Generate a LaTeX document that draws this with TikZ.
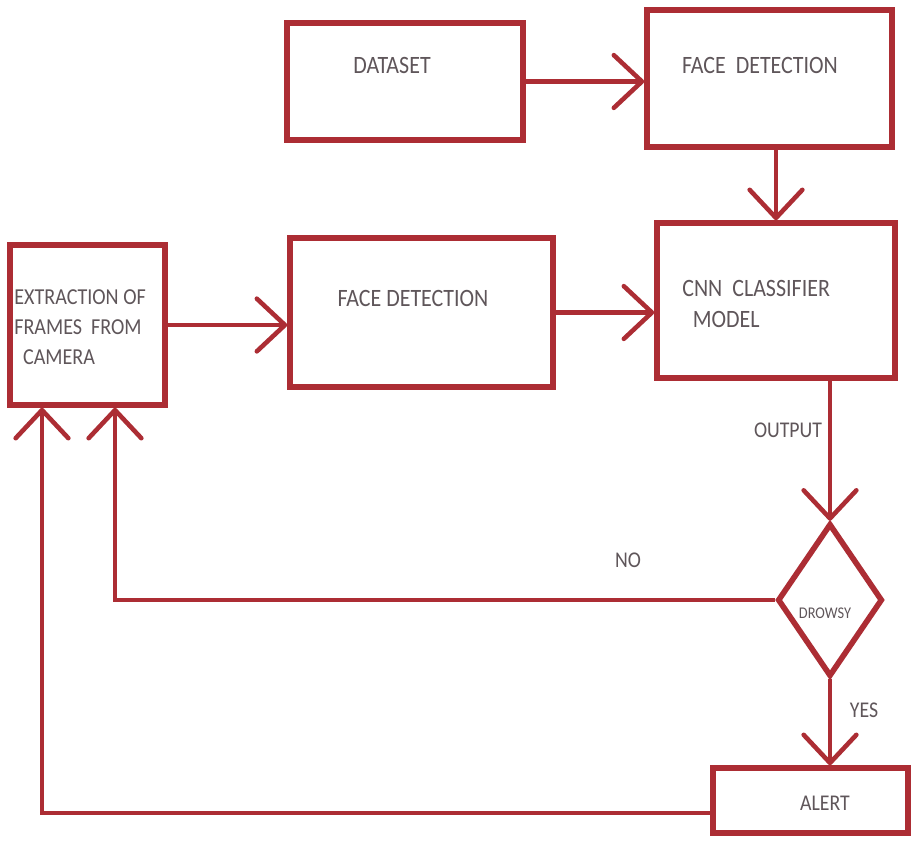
\documentclass[tikz,border=0pt]{standalone}
\usepackage{fontspec}
\setmainfont{Carlito}[FakeStretch=0.88]
\usetikzlibrary{arrows.meta,shapes.geometric}
\definecolor{boxred}{RGB}{172,45,52}
\definecolor{txtgray}{RGB}{95,86,90}

\begin{document}
\begin{tikzpicture}[x=0.02cm, y=-0.02cm,
    blk/.style={draw=boxred, line width=3.2pt, inner sep=0pt},
    txt/.style={text=txtgray, font=\fontsize{14.2}{16}\selectfont, inner sep=0pt},
    lbl/.style={text=txtgray, font=\fontsize{12.8}{14}\selectfont, inner sep=0pt},
    arr/.style={draw=boxred, line width=2.6pt, -{Straight Barb[length=16pt,width=30pt,round]}}]
  \fill[white] (0,0) rectangle (915,840);
  \useasboundingbox (0,0) rectangle (915,840);

  % boxes
  \node[blk, minimum width=4.72cm, minimum height=2.34cm] (dataset) at (405,81.5) {};
  \node[blk, minimum width=4.9cm, minimum height=2.74cm] (fdtop) at (769.5,78.5) {};
  \node[blk, minimum width=4.76cm, minimum height=3.1cm] (cnn) at (776,300.5) {};
  \node[blk, minimum width=5.26cm, minimum height=2.98cm] (fdmid) at (421.5,312.5) {};
  \node[blk, minimum width=3.1cm, minimum height=3.2cm] (extract) at (87.5,325) {};
  \node[blk, diamond, minimum width=2.1cm, minimum height=3.06cm] (drowsy) at (830,600) {};
  \node[blk, minimum width=3.9cm, minimum height=1.3cm] (alert) at (810.5,800.5) {};

  % texts
  \node[txt] (dataset-t) at (392,65) {DATASET};
  \node[txt] (fdtop-t) at (760,65) {FACE\ \ DETECTION};
  \node[txt, align=left, anchor=west] (cnn-t) at (682,304) {CNN\ \ CLASSIFIER\\[2pt]\hspace{6pt}MODEL};
  \node[txt] (fdmid-t) at (413,298) {FACE DETECTION};
  \node[txt, font=\fontsize{13}{17}\selectfont, align=left, anchor=west] (extract-t) at (14,327)
    {EXTRACTION OF\\FRAMES\ \ FROM\\\hspace{5pt}CAMERA};
  \node[txt, font=\fontsize{9.3}{10}\selectfont] (drowsy-t) at (825,613) {DROWSY};
  \node[lbl] (alert-t) at (825,803) {ALERT};

  % connectors
  \coordinate (noin) at ([xshift=0.55cm]extract.south);
  \coordinate (yesin) at ([xshift=-0.91cm]extract.south);
  \coordinate (alertout) at ([yshift=-0.25cm]alert.west);
  \draw[arr] (dataset.east) -- (dataset.east -| fdtop.west);
  \draw[arr] (cnn.north |- fdtop.south) -- (cnn.north);
  \draw[arr] (extract.east) -- (extract.east -| fdmid.west);
  \draw[arr] (fdmid.east) -- (fdmid.east -| cnn.west);
  \draw[arr] (drowsy.north |- cnn.south) -- (drowsy.north);
  \draw[arr] (drowsy.west) -| (noin);
  \draw[arr] (drowsy.south) -- (drowsy.south |- alert.north);
  \draw[arr] (alertout) -| (yesin);

  % edge labels
  \node[lbl] (out-l) at (788,430) {OUTPUT};
  \node[lbl] (no-l) at (628,560) {NO};
  \node[lbl] (yes-l) at (864,710) {YES};
\end{tikzpicture}
\end{document}
